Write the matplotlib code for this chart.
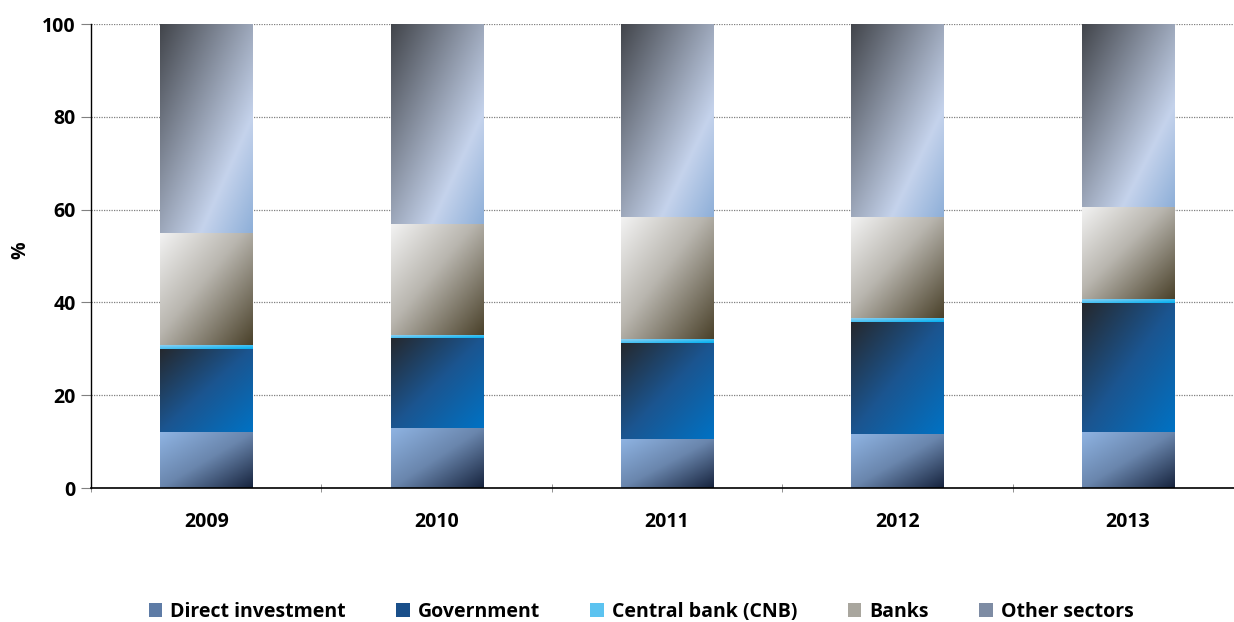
import numpy as np
import matplotlib
matplotlib.use("Agg")
import matplotlib.pyplot as plt
from matplotlib.colors import LinearSegmentedColormap
from matplotlib.patches import Patch

plt.rcParams['font.family'] = ['Open Sans', 'DejaVu Sans']

years = ['2009', '2010', '2011', '2012', '2013']
direct_investment = [12.0, 13.0, 10.6, 11.6, 12.1]
government = [18.0, 19.4, 20.7, 24.2, 27.8]
central_bank = [0.8, 0.5, 0.8, 0.8, 0.8]
banks = [24.2, 24.0, 26.3, 21.8, 19.9]
other_sectors = [45.0, 43.1, 41.6, 41.6, 39.4]

series_names = ['Direct investment', 'Government', 'Central bank (CNB)', 'Banks', 'Other sectors']
series_vals = [direct_investment, government, central_bank, banks, other_sectors]

grads = [
    [(0.0, '#8fb4e3'), (0.5, '#6a86ad'), (1.0, '#16233d')],
    [(0.0, '#25282d'), (0.5, '#1b5590'), (1.0, '#0072c4')],
    [(0.0, '#8fd0f2'), (1.0, '#00b0f0')],
    [(0.0, '#f3f3f3'), (0.45, '#b9b6af'), (1.0, '#4a412a')],
    [(0.0, '#42454b'), (0.72, '#c5d3ec'), (1.0, '#8eafd8')],
]
legend_cols = ['#5e7ca6', '#1a4f8a', '#5cc3f0', '#a9a69e', '#7e8ca4']
cmaps = [LinearSegmentedColormap.from_list('g%d' % i, g) for i, g in enumerate(grads)]

W, H = 1234, 622
fig = plt.figure(figsize=(W / 100, H / 100), dpi=100)
ax = fig.add_axes([91 / W, 1 - 488 / H, (1243 - 91) / W, (488 - 24) / H])

x = np.arange(len(years))
width = 0.4
bottom = np.zeros(len(years))

n = 200
u = np.linspace(0, 1, n)
U, V = np.meshgrid(u, u)
field = (U * 0.5 + V * 0.5)

for vals, cmap in zip(series_vals, cmaps):
    vals = np.array(vals)
    bars = ax.bar(x, vals, width, bottom=bottom, color='none', edgecolor='none', zorder=2)
    for rect in bars:
        x0, y0 = rect.get_x(), rect.get_y()
        w, h = rect.get_width(), rect.get_height()
        im = ax.imshow(field, cmap=cmap, extent=(x0, x0 + w, y0, y0 + h),
                       origin='upper', aspect='auto', zorder=2, interpolation='bilinear')
        im.set_clip_path(rect)
    bottom += vals

ax.set_xlim(-0.5, len(years) - 0.5)
ax.set_ylim(0, 100)
ax.set_yticks(np.arange(0, 101, 20))
ax.yaxis.grid(True, linestyle=(0, (1, 1)), color='#808080', linewidth=0.9, zorder=0)
ax.set_axisbelow(True)

ax.set_xticks(x)
ax.set_xticklabels(years, fontsize=14, fontweight='bold')
ax.set_xticks(np.arange(-0.5, len(years) + 0.5, 1), minor=True)
ax.tick_params(axis='x', which='major', length=0, pad=17)
ax.tick_params(axis='x', which='minor', length=6, color='#808080', direction='inout')
ax.tick_params(axis='y', length=7, color='#808080', labelsize=14, pad=4)
for lab in ax.get_yticklabels():
    lab.set_fontweight('bold')

for s in ['top', 'right']:
    ax.spines[s].set_visible(False)
ax.spines['left'].set_color('black')
ax.spines['bottom'].set_color('black')
ax.spines['left'].set_linewidth(1.0)
ax.spines['bottom'].set_linewidth(1.2)

fig.text(20 / W, 1 - 250 / H, '%', rotation=90, fontsize=14, fontweight='bold',
         ha='center', va='center')

handles = [Patch(facecolor=c, edgecolor='none') for c in legend_cols]
leg = fig.legend(handles, series_names, loc='center', ncol=5,
                 bbox_to_anchor=(641 / W, 1 - 612 / H), frameon=False,
                 prop={'size': 14, 'weight': 'bold'}, handlelength=0.7, handleheight=0.7,
                 handletextpad=0.4, columnspacing=2.6)

fig.savefig('out.png', dpi=100)
